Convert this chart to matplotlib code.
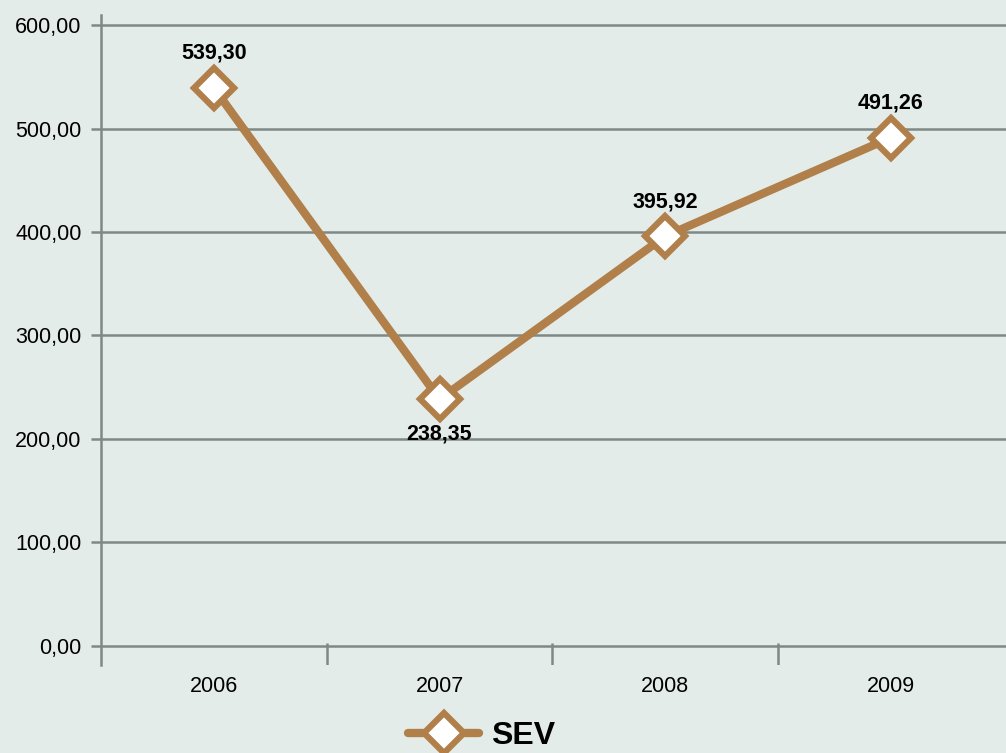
import matplotlib.pyplot as plt
from matplotlib.lines import Line2D

years = ['2006', '2007', '2008', '2009']
sev = [539.30, 238.35, 395.92, 491.26]
labels = ['539,30', '238,35', '395,92', '491,26']
yticks = [0, 100, 200, 300, 400, 500, 600]

bg = '#e3ece9'
brown = '#b17f4a'
grid = '#7e8985'

plt.rcParams['font.family'] = ['Liberation Sans', 'DejaVu Sans']

fig = plt.figure(figsize=(10.06, 7.53), dpi=100, facecolor=bg)
ax = fig.add_axes([101 / 1006, 1 - 665 / 753, 1 - 101 / 1006, (665 - 15) / 753])
ax.set_facecolor(bg)

x = list(range(len(years)))
ax.plot(x, sev, color=brown, lw=6, marker='D', markersize=20,
        markerfacecolor='white', markeredgecolor=brown, markeredgewidth=4.5,
        solid_capstyle='round', zorder=5, clip_on=False)

# value labels: below the dip, above elsewhere
for i, (v, t) in enumerate(zip(sev, labels)):
    low = 0 < i < len(sev) - 1 and v < sev[i - 1] and v < sev[i + 1]
    ax.annotate(t, (i, v), xytext=(0, -25 if low else 25), textcoords='offset points',
                ha='center', va='center', fontsize=15.5, fontweight='bold')

ax.set_xlim(-0.5, 3.51)
ax.set_ylim(-18.4, 609.7)

for s in ['top', 'right', 'bottom']:
    ax.spines[s].set_visible(False)
ax.spines['left'].set_color(grid)
ax.spines['left'].set_linewidth(1.8)

ax.set_yticks(yticks)
ax.set_yticklabels([f'{v:.2f}'.replace('.', ',') for v in yticks], fontsize=15.5)
ax.tick_params(axis='y', length=7, width=1.8, color=grid, pad=7)
for v in yticks:
    ax.axhline(v, color=grid, lw=1.8, zorder=1)

ax.set_xticks(x)
ax.set_xticklabels(years, fontsize=15.5)
ax.tick_params(axis='x', length=0, pad=8)
# category separators
ax.vlines([i + 0.5 for i in x[:-1]], -18.4, 3, color=grid, lw=1.8, zorder=1)

handle = Line2D([], [], color=brown, lw=6, marker='D', markersize=20,
                markerfacecolor='white', markeredgecolor=brown,
                markeredgewidth=4.5, solid_capstyle='round')
leg = fig.legend([handle], ['SEV'], loc='center', bbox_to_anchor=(482 / 1006, 1 - 736 / 753),
                 frameon=False, prop={'size': 23, 'weight': 'bold'},
                 handlelength=2.2, handletextpad=0.4)

fig.savefig('out.png', dpi=100, facecolor=bg)
